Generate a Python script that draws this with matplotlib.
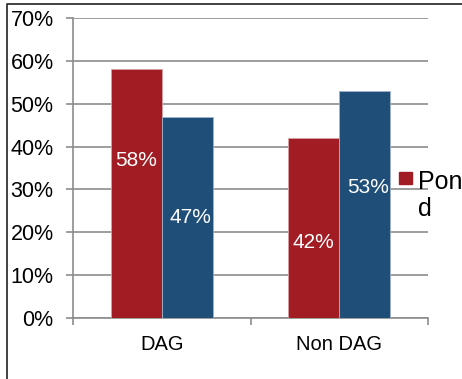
import matplotlib
matplotlib.use("Agg")
import matplotlib.pyplot as plt
from matplotlib.lines import Line2D
from matplotlib.patches import Rectangle

categories = ["DAG", "Non DAG"]
series_names = ["Pond", "Other"]
pond = [58, 42]
other = [47, 53]
yticks = [0, 10, 20, 30, 40, 50, 60, 70]

# where the data labels sit (in % units), they are not centred in the source
pond_label_y = [36.8, 17.5]
other_label_y = [23.5, 30.5]

red = "#A21C24"
blue = "#1F4E79"
grid = "#8C8C8C"

plt.rcParams["font.family"] = ["Liberation Sans", "DejaVu Sans"]

W, H = 462, 379
fig = plt.figure(figsize=(W / 100, H / 100), dpi=100)
ax = fig.add_axes([73 / W, 1 - 318 / H, (428 - 73) / W, 300 / H])

x = list(range(len(categories)))
bw = 0.288
ax.bar([i - bw / 2 for i in x], pond, width=bw, color=red,
       edgecolor="#D9A0A4", linewidth=0.6, zorder=3, label=series_names[0])
ax.bar([i + bw / 2 for i in x], other, width=bw, color=blue,
       edgecolor="#9FB4CC", linewidth=0.6, zorder=3, label=series_names[1])

for i in x:
    ax.text(i - bw / 2, pond_label_y[i], f"{pond[i]}%", ha="center", va="center",
            color="white", fontsize=15, zorder=4)
    ax.text(i + bw / 2 + 0.02, other_label_y[i], f"{other[i]}%", ha="center", va="center",
            color="white", fontsize=15, zorder=4)

ax.set_xlim(-0.5, len(categories) - 0.5)
ax.set_ylim(0, 70)
ax.set_yticks(yticks)
ax.set_yticklabels([f"{v}%" for v in yticks], fontsize=15.5)
ax.yaxis.grid(True, color=grid, linewidth=1.2, zorder=0)
ax.set_axisbelow(True)

ax.set_xticks(x)
ax.set_xticklabels(categories, fontsize=14.5)
ax.set_xticks([-0.5, 0.5, 1.5], minor=True)
ax.tick_params(axis="x", which="major", length=0, pad=12)
ax.tick_params(axis="x", which="minor", length=5, width=1.2, color=grid)
ax.tick_params(axis="y", length=5, width=1.2, color=grid, pad=9)

for s in ["top", "right"]:
    ax.spines[s].set_visible(False)
for s in ["left", "bottom"]:
    ax.spines[s].set_color(grid)
    ax.spines[s].set_linewidth(1.2)

# legend, only the first entry is visible in the source and its text wraps
fig.patches.append(Rectangle((399 / W, 1 - 184 / H), 13 / W, 12 / H,
                             transform=fig.transFigure, color=red))
name = series_names[0]
fig.text(418 / W, 1 - 189 / H, name[:3], fontsize=18, ha="left", va="baseline")
fig.text(418 / W, 1 - 216 / H, name[3:], fontsize=18, ha="left", va="baseline")

# outer chart frame (top and left only are visible)
fig.lines.append(Line2D([7 / W, 7 / W, 1], [0, 1 - 4 / H, 1 - 4 / H],
                        transform=fig.transFigure, color="#333333", linewidth=1.3))

fig.savefig("out.png", dpi=100)
